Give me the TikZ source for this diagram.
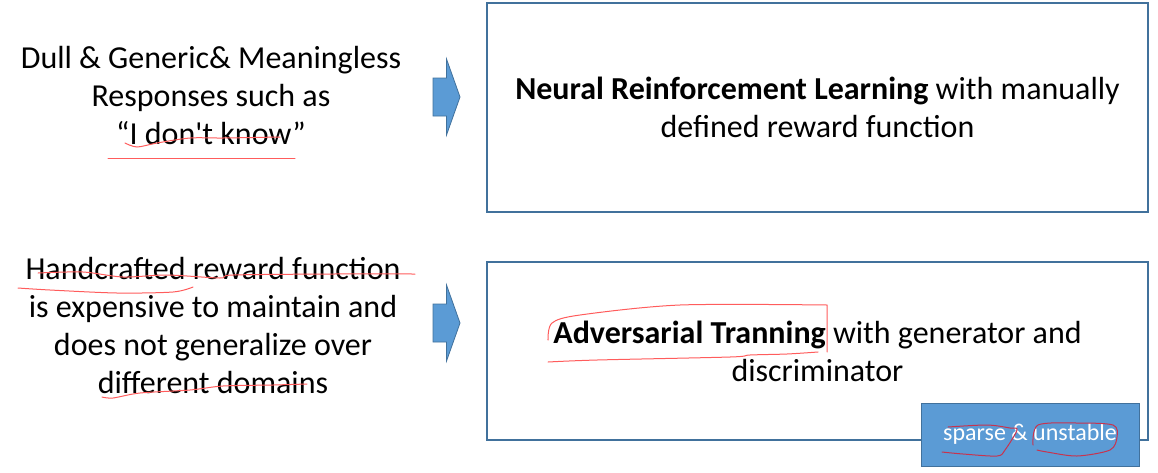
\documentclass[tikz,border=0pt]{standalone}
\usepackage{fontspec}
\setmainfont{Carlito}[Ligatures=TeXOff]
\usetikzlibrary{positioning}
\definecolor{boxline}{HTML}{41719C}
\definecolor{arrowfill}{HTML}{5B9BD5}
\definecolor{penred}{HTML}{FF5C5C}
\definecolor{penonblue}{HTML}{C8334E}
\tikzset{
  bigtext/.style={align=center,font=\fontsize{32}{38}\selectfont,inner sep=0pt},
  framebox/.style={draw=boxline,line width=1.2pt,minimum width=661pt,inner sep=0pt,
    align=center,font=\fontsize{32}{38}\selectfont},
  notebox/.style={draw=boxline,fill=arrowfill,line width=1pt,minimum width=218pt,
    minimum height=63pt,text=white,font=\fontsize{24}{28}\selectfont},
  pen/.style={draw=penred,line width=1pt,line cap=round},
  blockarrow/.pic={\draw[draw=boxline,fill=arrowfill,line width=0.8pt]
    (-13.5,-19) -- (0,-19) -- (0,-38) -- (13.5,0) -- (0,38) -- (0,19) -- (-13.5,19) -- cycle;}
}
\begin{document}
\begin{tikzpicture}[x=1pt,y=-1pt]
\useasboundingbox (0,0) rectangle (1158,472);

% left side texts
\node[bigtext] (dullText) at (211,96) {Dull \& Generic\& Meaningless\\Responses such as\\“I don't know”};
\node[bigtext] (handText) at (213,325) {Handcrafted reward function\\is expensive to maintain and\\does not generalize over\\different domains};

% right side boxes
\node[framebox,minimum height=209pt] (nlrBox) at (817.5,107.5)
  {\textbf{Neural Reinforcement Learning} with manually\\defined reward function};
\node[framebox,minimum height=178pt] (advBox) at (817.5,351)
  {\textbf{Adversarial Tranning} with generator and\\discriminator};
\node[notebox] (unstableBox) at (1030,434.5) {sparse \& unstable};

% arrows
\pic at (446.5,97) {blockarrow};
\pic at (446.5,323) {blockarrow};

% red pen marks
\draw[pen] plot[smooth] coordinates {(125,143) (137,147) (157,143) (190,138) (223,138) (280,137)};
\draw[pen] (108,158) -- (295,158);
\draw[pen] plot[smooth] coordinates {(38,273) (83,272) (123,277) (167,275) (220,278) (233,275) (333,274) (415,274)};
\draw[pen] plot[smooth] coordinates {(18,288) (50,290) (117,293) (173,292) (193,287)};
\draw[pen] plot[smooth] coordinates {(102,397) (113,398) (140,393) (190,390) (223,386) (273,385) (307,384)};
\draw[pen] plot[smooth] coordinates {(548,340) (552,323) (580,315) (680,305) (827,305)} -- (827,352);
\draw[pen] plot[smooth] coordinates {(818,352) (787,354) (750,355) (730,357) (597,360) (548,362)};
\draw[pen,draw=penonblue] plot[smooth] coordinates {(942,452) (963,454) (997,456) (1005,450) (1017,430) (1010,428) (987,425) (948,427)};
\draw[pen,draw=penonblue] plot[smooth] coordinates {(1033,445) (1038,425) (1077,423) (1113,425) (1117,437) (1110,450) (1077,456) (1047,452) (1037,450)};
\end{tikzpicture}
\end{document}
